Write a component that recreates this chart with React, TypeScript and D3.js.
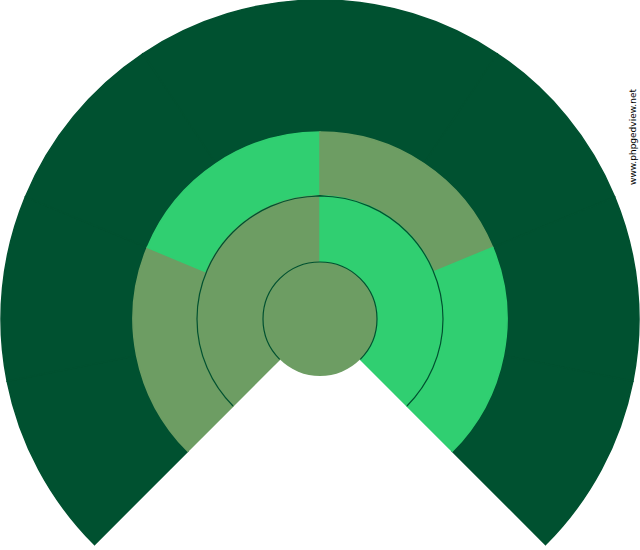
import React from "react";
import * as d3 from "d3";

// Fan chart (PhpGedView style): generations of ancestors, each split evenly over 270°
const generation1 = ["root"];
const generation2 = ["father", "mother"];
const generation3 = ["gf1", "gm1", "gf2", "gm2"];
const generation4 = ["g1", "g2", "g3", "g4", "g5", "g6", "g7", "g8"];
const kinds1 = ["muted"];
const kinds2 = ["muted", "bright"];
const kinds3 = ["muted", "bright", "muted", "bright"];
const kinds4 = ["dark", "dark", "dark", "dark", "dark", "dark", "dark", "dark"];
const watermark = "www.phpgedview.net";

const W = 640;
const H = 550;
const CX = 320;
const CY = 319;
const RADII = [0, 57, 123, 187, 319];
const START = (-3 * Math.PI) / 4;
const END = (3 * Math.PI) / 4;
const COLORS: Record<string, string> = {
  muted: "#6d9d63",
  bright: "#30cf71",
  dark: "#005130",
};

export default function App() {
  if (typeof document !== "undefined") document.body.style.margin = "0";
  const gens = [
    { names: generation2, kinds: kinds2 },
    { names: generation3, kinds: kinds3 },
    { names: generation4, kinds: kinds4 },
  ];
  const arc = d3.arc<any>();
  const outline = (r: number) =>
    arc({ innerRadius: r, outerRadius: r, startAngle: START, endAngle: END }) as string;
  return (
    <svg width={W} height={H} style={{ display: "block", background: "#fff" }}>
      <g transform={`translate(${CX},${CY})`}>
        {gens
          .slice()
          .reverse()
          .map((g, ri) => {
            const gi = gens.length - 1 - ri;
            const angle = d3.scaleLinear().domain([0, g.names.length]).range([START, END]);
            return (
              <g key={gi}>
                {g.names.map((n, i) => (
                  <path
                    key={n}
                    d={
                      arc({
                        innerRadius: RADII[gi + 1],
                        outerRadius: RADII[gi + 2],
                        startAngle: angle(i),
                        endAngle: angle(i + 1),
                      }) as string
                    }
                    fill={COLORS[g.kinds[i]]}
                    stroke={COLORS[g.kinds[i]]}
                    strokeWidth={1.5}
                    strokeLinejoin="miter"
                  />
                ))}
              </g>
            );
          })}
        {generation1.map((n, i) => (
          <circle key={n} r={RADII[1]} fill={COLORS[kinds1[i]]} />
        ))}
        <path d={outline(RADII[1])} fill="none" stroke={COLORS.dark} strokeWidth={1.2} />
        <path d={outline(RADII[2])} fill="none" stroke={COLORS.dark} strokeWidth={1.2} />
      </g>
      <text
        transform={`translate(636,137) rotate(-90)`}
        textAnchor="middle"
        fontFamily="DejaVu Sans"
        fontSize={9}
        textLength={96}
        lengthAdjust="spacing"
        fill="#000"
      >
        {watermark}
      </text>
    </svg>
  );
}
